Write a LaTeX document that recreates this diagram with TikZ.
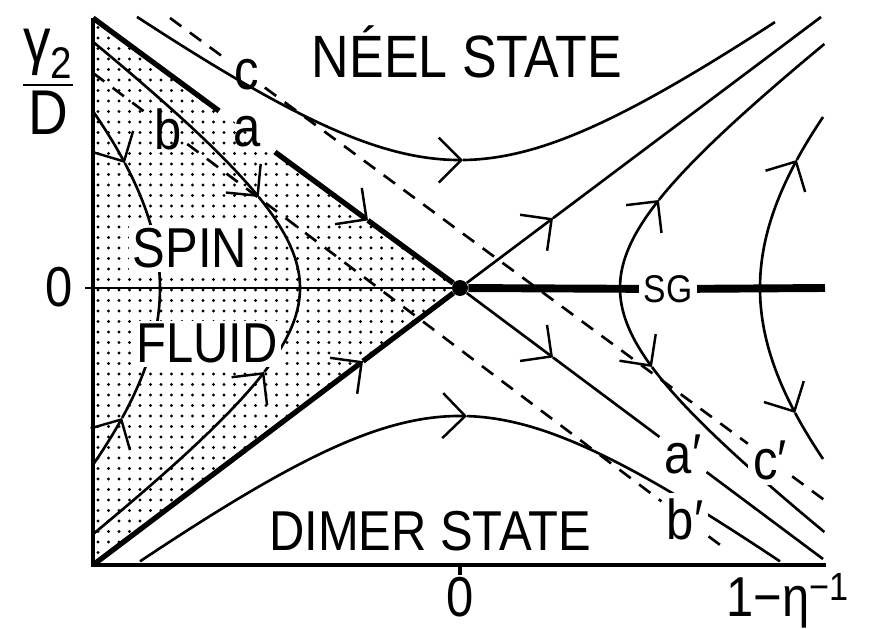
\documentclass[tikz,border=0pt]{standalone}
\usepackage{amsmath}
\usepackage{fontspec}
\newfontfamily\figfont[FakeStretch=0.87]{Liberation Sans}
\usetikzlibrary{arrows.meta}

\begin{document}
\begin{tikzpicture}[x=1cm,y=1cm,
    >={Straight Barb[length=4.5mm,width=9mm,line width=1.4pt]},
    lbl/.style={font=\figfont\fontsize{32}{38}\selectfont,inner sep=3pt},
    small lbl/.style={font=\figfont\fontsize{22}{26}\selectfont,inner sep=2.5pt},
    traj/.style={line width=1.5pt},
    sep line/.style={line width=3pt},
    sg line/.style={line width=4.5pt},
    axis/.style={line width=1.8pt},
    guide/.style={line width=1.5pt,dash pattern=on 8pt off 6pt}]
  \useasboundingbox (-9.2,-6.8) rectangle (8.3,5.76);
  % corners of the plot
  \coordinate (tl) at (-7.34,5.4);
  \coordinate (bl) at (-7.34,-5.54);
  \coordinate (br) at (7.32,-5.54);
  \coordinate (tr) at (7.22,5.42);
  \coordinate (dr) at (7.26,-5.42);
  \coordinate (zl) at (-7.5,0);
  \coordinate (sgr) at (7.3,0);
  \coordinate (x0) at (0,-5.54);
  % where the arrows sit on the separatrices
  \coordinate (ua) at (-1.84,1.352);
  \coordinate (la) at (-1.94,-1.464);
  \coordinate (ra) at (1.86,1.396);
  \coordinate (da) at (1.86,-1.389);
  % spin fluid region (dotted)
  \begin{scope}
    \clip (tl) -- (0,0) -- (bl) -- cycle;
    \foreach \i in {0,...,35}
      \foreach \j in {0,...,53}
        \fill (-7.24+0.21*\i,-5.5+0.21*\j) circle (0.033);
  \end{scope}
  % flow lines left of the fixed point
  \draw[traj,->] plot[domain=-3.54:-2.6,samples=12,smooth] ({-sqrt(36+1.43*(\x)^2)},\x);
  \draw[traj] plot[domain=-2.6:2.5,samples=40,smooth] ({-sqrt(36+1.43*(\x)^2)},\x);
  \draw[traj,->] plot[domain=3.54:2.5,samples=12,smooth] ({-sqrt(36+1.43*(\x)^2)},\x);
  \draw[traj,->] plot[domain=-4.92:-1.68,samples=30,smooth] ({-sqrt(10.24+1.8*(\x)^2)},\x);
  \draw[traj] plot[domain=-1.68:1.82,samples=30,smooth] ({-sqrt(10.24+1.8*(\x)^2)},\x);
  \draw[traj,->] plot[domain=4.92:1.82,samples=30,smooth] ({-sqrt(10.24+1.8*(\x)^2)},\x);
  % flow lines right of the fixed point
  \draw[traj,->] plot[domain=0:1.76,samples=20,smooth] ({sqrt(10.24+1.8*(\x)^2)},\x);
  \draw[traj] plot[domain=1.76:4.88,samples=30,smooth] ({sqrt(10.24+1.8*(\x)^2)},\x);
  \draw[traj,->] plot[domain=0:-1.58,samples=20,smooth] ({sqrt(10.24+1.8*(\x)^2)},\x);
  \draw[traj] plot[domain=-1.58:-4.88,samples=30,smooth] ({sqrt(10.24+1.8*(\x)^2)},\x);
  \draw[traj,->] plot[domain=0:2.56,samples=20,smooth] ({sqrt(36+1.43*(\x)^2)},\x);
  \draw[traj] plot[domain=2.56:3.42,samples=12,smooth] ({sqrt(36+1.43*(\x)^2)},\x);
  \draw[traj,->] plot[domain=0:-2.5,samples=20,smooth] ({sqrt(36+1.43*(\x)^2)},\x);
  \draw[traj] plot[domain=-2.5:-3.42,samples=12,smooth] ({sqrt(36+1.43*(\x)^2)},\x);
  % neel and dimer flows
  \draw[traj,->] plot[domain=-6.46:0.06,samples=40,smooth] (\x,{sqrt(6.55+0.5476*(\x)^2)});
  \draw[traj] plot[domain=0.06:6.3,samples=40,smooth] (\x,{sqrt(6.55+0.5476*(\x)^2)});
  \draw[traj,->] plot[domain=-6.4:0.14,samples=40,smooth] (\x,{-sqrt(6.55+0.57*(\x)^2)});
  \draw[traj] plot[domain=0.14:6.4,samples=40,smooth] (\x,{-sqrt(6.55+0.57*(\x)^2)});
  % region names
  \node[lbl,anchor=base,font=\figfont\fontsize{34}{40}\selectfont] (neel) at (0.14,4.2) {NÉEL STATE};
  \node[lbl,anchor=base] (dimer) at (-0.6,-5.24) {DIMER STATE};
  \node[lbl,anchor=base,fill=white,inner sep=2pt] (spin) at (-5.4,0.4) {SPIN};
  \node[lbl,anchor=base,fill=white,inner sep=2pt] (fluid) at (-5.06,-1.5) {FLUID};
  % line labels
  \node[lbl,inner sep=0.28cm] (a) at (-4.26,3.13) {a};
  \node[lbl] (b) at (-5.84,3.17) {b};
  \node[lbl] (c) at (-4.26,4.27) {c};
  \node[lbl,inner sep=0.1cm] (a2) at (4.46,-3.33) {a′};
  \node[lbl,inner sep=0.1cm,fill=white] (b2) at (4.5,-4.62) {b′};
  \node[lbl,inner sep=0.1cm,fill=white] (c2) at (6.2,-3.44) {c′};
  \node[small lbl] (sg) at (4.16,-0.02) {SG};
  % fixed point and separatrices
  \node[circle,fill,inner sep=0pt,minimum size=0.32cm] (fp) at (0,0) {};
  \draw[sep line] (tl) -- (a);
  \draw[sep line,->] (a) -- (ua);
  \draw[sep line] (ua) -- (fp);
  \draw[sep line,->] (bl) -- (la);
  \draw[sep line] (la) -- (fp);
  \draw[traj,->] (fp) -- (ra);
  \draw[traj] (ra) -- (tr);
  \draw[traj,->] (fp) -- (da);
  \draw[traj] (da) -- (a2);
  \draw[traj] (a2) -- (dr);
  \draw[traj] (zl) -- (fp);
  \draw[sg line] (fp) -- (sg);
  \draw[sg line] (sg) -- (sgr);
  % dashed lines b, c
  \draw[guide] (-7.34,4.3) -- (b) -- (b2) -- (5.34,-5.24);
  \draw[guide] (-5.8,5.4) -- (c) -- (c2) -- (7.34,-4.28);
  % axes
  \draw[axis] (tl) -- (bl) -- (br);
  \draw[axis] (x0) -- ++(0,-0.2);
  \node[lbl] (y0) at (-8.02,0.02) {0};
  \node[lbl,font=\figfont\fontsize{36}{42}\selectfont] (ylab) at (-8.24,4.12) {$\dfrac{\text{γ}_{\text{2}}}{\text{D}}$};
  \node[lbl,anchor=base,inner sep=0pt] (x0lab) at (0,-6.56) {0};
  \node[lbl,anchor=base,inner sep=0pt] (xlab) at (6.56,-6.56) {1−η\textsuperscript{−1}};
\end{tikzpicture}
\end{document}
